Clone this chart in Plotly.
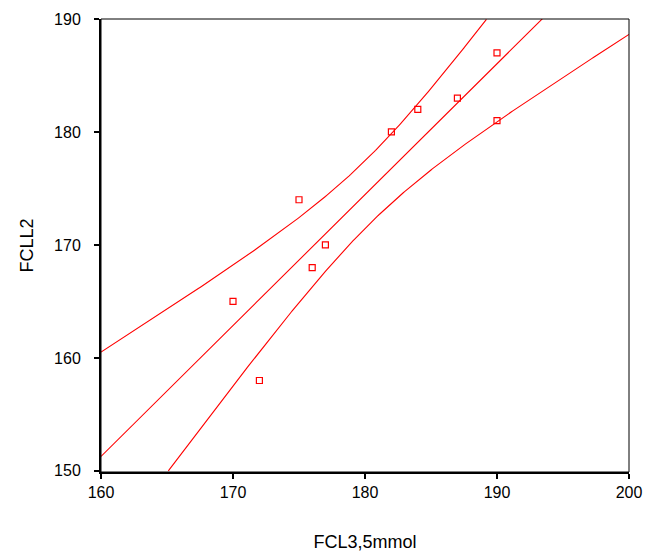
import numpy as np
import plotly.graph_objects as go

# Paired measurements
fcl35 = [170, 172, 175, 176, 177, 182, 184, 187, 190, 190]
fcll2 = [165, 158, 174, 168, 170, 180, 182, 183, 187, 181]

x_ticks = [160, 170, 180, 190, 200]
y_ticks = [150, 160, 170, 180, 190]
x_range = [160, 200]
y_range = [149.9, 190]

# Least-squares fit with 95% confidence band for the mean
xa = np.array(fcl35, dtype=float)
ya = np.array(fcll2, dtype=float)
n = len(xa)
xm, ym = xa.mean(), ya.mean()
sxx = ((xa - xm) ** 2).sum()
slope = ((xa - xm) * (ya - ym)).sum() / sxx
intercept = ym - slope * xm
resid = ya - (intercept + slope * xa)
s = np.sqrt((resid ** 2).sum() / (n - 2))
t_crit = 2.306  # t(0.975, df=8)

xg = np.linspace(x_range[0], x_range[1], 401)
fit = intercept + slope * xg
half = t_crit * s * np.sqrt(1.0 / n + (xg - xm) ** 2 / sxx)
upper = fit + half
lower = fit - half

def inside(v):
    return np.where((v >= y_range[0]) & (v <= y_range[1]), v, np.nan)

red = "#ff0000"
fig = go.Figure()
line_style = dict(color=red, width=1.1)
fig.add_trace(go.Scatter(x=xg, y=inside(upper), mode="lines", line=line_style,
                         hoverinfo="skip"))
fig.add_trace(go.Scatter(x=xg, y=fit, mode="lines", line=line_style,
                         hoverinfo="skip"))
fig.add_trace(go.Scatter(x=xg, y=inside(lower), mode="lines", line=line_style,
                         hoverinfo="skip"))
fig.add_trace(go.Scatter(x=fcl35, y=fcll2, mode="markers",
                         marker=dict(symbol="square-open", size=6, color=red,
                                     line=dict(width=1.2, color=red))))

font_family = "Liberation Sans, Arial, sans-serif"
axis_common = dict(
    showgrid=False, zeroline=False, showline=True, linecolor="black",
    linewidth=2, ticks="outside", ticklen=5, tickwidth=2, tickcolor="black",
    tickfont=dict(family=font_family, size=16, color="black"),
)
fig.update_xaxes(range=x_range, tickvals=x_ticks, ticklabelstandoff=0,
                 title=dict(text="FCL3,5mmol", standoff=35,
                            font=dict(family=font_family, size=18, color="black")),
                 **axis_common)
fig.update_yaxes(range=y_range, tickvals=y_ticks, ticklabelstandoff=10,
                 title=dict(text="FCLL2", standoff=16,
                            font=dict(family=font_family, size=18, color="black")),
                 **axis_common)

# thin frame on the top and right edges
fig.add_shape(type="rect", xref="paper", yref="paper", x0=0, y0=0, x1=1, y1=1,
              line=dict(color="black", width=1), layer="above")

fig.update_layout(
    width=646, height=556,
    margin=dict(l=101, r=17, t=19, b=84, autoexpand=False),
    plot_bgcolor="white", paper_bgcolor="white",
    showlegend=False,
    font=dict(family=font_family, color="black"),
)
fig.write_html("out.html")
